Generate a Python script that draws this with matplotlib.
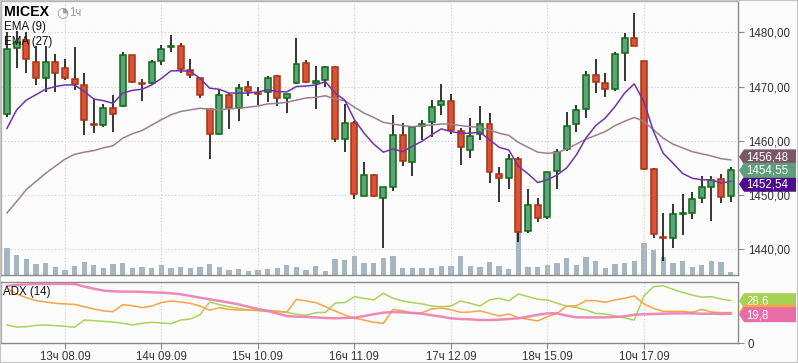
import matplotlib
matplotlib.use('Agg')
import matplotlib.pyplot as plt
from matplotlib.patches import Rectangle, Polygon

# ---------------- data ----------------
opens = [1464.9, 1477.1, 1478.6, 1474.5, 1471.5, 1474.5, 1473.4, 1471.3, 1470.2, 1463.1,
         1463.0, 1466.0, 1466.5, 1475.8, 1470.6, 1470.6, 1474.8, 1477.2, 1477.4, 1473.0,
         1471.5, 1465.8, 1461.2, 1468.4, 1466.0, 1469.9, 1468.8, 1469.0, 1471.9, 1467.9,
         1470.6, 1474.4, 1470.7, 1471.2, 1473.6, 1460.3, 1463.3, 1449.9, 1453.7, 1449.4,
         1451.5, 1461.1, 1456.1, 1462.8, 1463.4, 1466.6, 1467.4, 1461.8, 1458.3, 1461.2,
         1463.1, 1453.9, 1453.1, 1456.7, 1443.4, 1448.1, 1446.0, 1454.5, 1458.4, 1463.1,
         1465.8, 1472.1, 1470.6, 1469.5, 1476.1, 1478.9, 1474.7, 1454.8, 1442.3, 1442.0,
         1446.5, 1446.7, 1449.4, 1451.5, 1452.9, 1449.8]
highs = [1480.1, 1480.3, 1480.0, 1477.4, 1477.4, 1476.0, 1475.0, 1477.2, 1472.5, 1467.7,
         1466.8, 1468.4, 1476.3, 1475.9, 1471.4, 1474.9, 1477.7, 1479.5, 1478.0, 1475.0,
         1471.6, 1465.9, 1469.4, 1468.8, 1470.4, 1471.0, 1469.9, 1472.0, 1472.1, 1468.6,
         1479.0, 1474.9, 1473.8, 1473.8, 1473.7, 1466.7, 1463.6, 1456.1, 1453.8, 1451.5,
         1464.8, 1463.3, 1462.6, 1463.9, 1467.5, 1470.5, 1468.6, 1462.3, 1464.2, 1466.4,
         1465.1, 1455.2, 1457.6, 1457.1, 1451.2, 1449.4, 1454.3, 1458.5, 1465.3, 1466.6,
         1472.9, 1475.1, 1472.5, 1476.3, 1479.9, 1483.6, 1474.8, 1455.0, 1446.6, 1448.4,
         1450.2, 1450.5, 1453.6, 1453.6, 1453.9, 1455.2]
lows = [1464.4, 1473.5, 1472.5, 1470.2, 1469.0, 1469.0, 1471.2, 1469.3, 1461.0, 1461.4,
        1462.6, 1461.7, 1466.2, 1470.6, 1467.4, 1470.2, 1473.9, 1476.3, 1472.5, 1471.5,
        1467.8, 1456.6, 1461.1, 1462.1, 1463.6, 1468.3, 1466.6, 1467.1, 1466.5, 1465.2,
        1470.5, 1470.6, 1465.8, 1469.9, 1459.7, 1458.0, 1449.3, 1449.8, 1449.6, 1440.2,
        1450.7, 1455.3, 1453.6, 1460.2, 1460.7, 1464.8, 1461.3, 1455.5, 1456.8, 1460.1,
        1452.2, 1448.7, 1451.2, 1441.3, 1443.0, 1445.0, 1445.5, 1451.2, 1458.2, 1461.7,
        1464.2, 1468.9, 1468.0, 1469.2, 1471.1, 1477.4, 1454.7, 1442.0, 1437.8, 1440.2,
        1442.7, 1445.6, 1448.5, 1445.3, 1448.5, 1448.7]
closes = [1476.9, 1478.3, 1475.0, 1471.5, 1474.5, 1472.5, 1471.5, 1470.4, 1463.8, 1462.9,
          1466.0, 1464.9, 1475.8, 1470.9, 1470.4, 1474.5, 1476.9, 1477.4, 1473.2, 1472.1,
          1468.4, 1461.2, 1468.4, 1466.0, 1469.7, 1469.1, 1468.6, 1471.5, 1467.9, 1468.6,
          1474.2, 1470.9, 1471.0, 1473.6, 1460.3, 1463.3, 1450.2, 1453.7, 1449.8, 1451.5,
          1461.1, 1456.2, 1462.6, 1463.1, 1466.2, 1467.4, 1462.0, 1458.9, 1460.9, 1463.1,
          1454.2, 1453.1, 1456.7, 1443.2, 1448.1, 1445.8, 1454.2, 1458.0, 1462.7, 1465.6,
          1472.1, 1470.8, 1469.5, 1476.0, 1478.9, 1477.5, 1454.8, 1442.8, 1442.0, 1446.5,
          1446.7, 1449.3, 1451.5, 1452.8, 1449.6, 1454.55]
volumes = [81, 61, 49, 34, 37, 25, 16, 28, 40, 31, 22, 34, 37, 22, 25, 22, 31, 22, 25,
           22, 25, 34, 25, 16, 19, 13, 16, 19, 22, 31, 25, 16, 28, 13, 49, 46, 58, 37, 37,
           52, 58, 22, 22, 22, 22, 28, 28, 58, 28, 25, 40, 28, 19, 132, 25, 25, 31, 37,
           52, 31, 55, 43, 22, 34, 37, 43, 97, 76, 55, 37, 43, 25, 31, 43, 40, 10]
ema9 = [1462.3, 1465.7, 1467.5, 1468.5, 1469.5, 1470.0, 1470.3, 1470.3, 1469.1, 1467.7,
        1467.4, 1466.9, 1468.8, 1469.3, 1469.5, 1470.3, 1471.5, 1472.9, 1472.9, 1472.8,
        1471.5, 1469.7, 1469.5, 1468.8, 1468.8, 1468.8, 1469.0, 1469.4, 1469.1, 1469.0,
        1470.0, 1470.1, 1470.3, 1470.9, 1468.8, 1467.5, 1463.9, 1461.4, 1459.4, 1457.9,
        1458.5, 1458.0, 1459.0, 1459.9, 1461.1, 1462.2, 1461.7, 1461.4, 1461.4, 1461.6,
        1460.2, 1458.8, 1458.3, 1455.3, 1453.9, 1452.3, 1452.8, 1453.7, 1455.0, 1457.4,
        1460.5, 1462.8, 1464.2, 1466.3, 1468.8, 1470.5, 1467.2, 1461.7, 1457.7, 1455.9,
        1454.0, 1453.1, 1452.8, 1452.8, 1452.2, 1452.54]
ema27 = [1446.7, 1448.8, 1451.0, 1452.5, 1454.0, 1455.3, 1456.6, 1457.5, 1457.9, 1458.2,
         1458.7, 1459.1, 1460.5, 1461.3, 1461.9, 1462.9, 1463.9, 1464.8, 1465.4, 1465.7,
         1466.0, 1465.8, 1465.7, 1465.9, 1466.0, 1466.2, 1466.4, 1466.8, 1466.9, 1467.1,
         1467.5, 1467.9, 1468.0, 1468.3, 1467.7, 1467.4, 1466.2, 1465.1, 1464.3, 1463.4,
         1463.1, 1462.8, 1462.6, 1462.8, 1462.9, 1463.1, 1463.1, 1462.8, 1462.6, 1462.5,
         1462.0, 1461.4, 1461.0, 1459.7, 1458.8, 1457.9, 1457.7, 1457.8, 1458.5, 1459.4,
         1460.3, 1461.0, 1461.7, 1462.8, 1463.6, 1464.3, 1463.6, 1462.0, 1460.5, 1459.4,
         1458.7, 1458.0, 1457.6, 1457.2, 1456.7, 1456.48]
adx = [38.5, 39.2, 39.6, 39.9, 39.9, 39.9, 39.9, 39.9, 38.1, 36.7,
       35.4, 34.9, 34.7, 34.7, 34.5, 34.2, 34.0, 33.6, 32.9, 31.8,
       30.6, 29.5, 28.4, 27.3, 26.1, 24.5, 23.0, 21.6, 20.0, 18.2,
       17.8, 17.6, 17.3, 16.9, 16.7, 16.9, 17.1, 18.2, 19.4, 20.5,
       20.9, 20.7, 20.3, 19.8, 18.7, 17.8, 16.7, 16.2, 16.0, 15.5,
       15.5, 15.8, 16.2, 16.7, 17.8, 19.1, 20.0, 20.0, 18.5, 17.3,
       17.3, 17.3, 17.3, 17.6, 18.0, 19.1, 19.4, 19.6, 19.8, 20.0,
       20.0, 20.0, 19.8, 19.8, 19.6, 19.8]
di_plus = [36.9, 33.1, 30.6, 28.6, 27.7, 26.8, 26.4, 26.1, 24.5, 23.0,
           21.6, 21.2, 25.9, 25.2, 23.9, 25.0, 27.3, 28.4, 27.7, 26.8,
           25.0, 22.1, 23.9, 22.7, 22.3, 22.3, 22.1, 22.1, 21.6, 20.9,
           29.5, 28.4, 27.3, 24.5, 21.6, 18.9, 16.7, 15.5, 14.0, 13.3,
           22.7, 21.8, 20.0, 20.5, 23.0, 23.6, 22.5, 20.7, 20.9, 21.8,
           20.0, 18.2, 19.6, 17.1, 16.0, 14.9, 17.8, 20.0, 25.0, 25.0,
           28.6, 28.6, 27.5, 29.1, 30.2, 31.8, 26.4, 23.4, 21.4, 21.4,
           21.4, 20.7, 22.7, 20.9, 20.5, 20.5]
di_minus = [12.2, 10.8, 11.0, 11.9, 12.2, 11.7, 11.3, 10.6, 15.5, 15.1,
            14.6, 14.2, 13.3, 12.2, 13.3, 14.0, 13.5, 13.1, 15.5, 16.2,
            19.1, 27.7, 25.9, 24.5, 23.4, 22.3, 21.8, 21.4, 21.2, 20.7,
            19.4, 18.7, 20.5, 20.7, 27.0, 27.3, 31.3, 30.2, 29.1, 33.6,
            30.2, 28.4, 27.3, 26.4, 25.0, 24.5, 25.0, 28.4, 26.8, 25.0,
            29.1, 30.2, 28.4, 33.1, 31.3, 29.5, 29.1, 26.8, 25.0, 23.9,
            22.3, 20.0, 19.6, 18.2, 16.9, 15.5, 31.8, 38.1, 38.7, 36.3,
            34.2, 32.4, 30.9, 31.3, 29.7, 28.6]
tick_pos = [6, 16, 26, 36, 46, 56, 66]
tick_labels = ['13ч 08.09', '14ч 09.09', '15ч 10.09', '16ч 11.09',
               '17ч 12.09', '18ч 15.09', '10ч 17.09']
price_ticks = [1440, 1450, 1460, 1470, 1480]

# ---------------- style ----------------
plt.rcParams['font.family'] = ['Liberation Sans', 'DejaVu Sans']
BG = '#fcfcfc'
SPINE = '#8a8a8a'
GRID = '#c9c9c9'
UP_FILL, UP_EDGE = '#5fa37d', '#0b6b12'
DN_FILL, DN_EDGE = '#d9533b', '#a8320f'
C_EMA9, C_EMA27 = '#7232a8', '#9d7f8c'
C_VOL = '#a5b5c2'
C_ADX, C_DIP, C_DIM = '#ec7db0', '#f7a445', '#a9d35b'

W, H = 798, 363
fig = plt.figure(figsize=(W / 100, H / 100), dpi=100, facecolor=BG)


def rect(l, t, r, b):
    return [l / W, 1 - b / H, (r - l) / W, (b - t) / H]


axv = fig.add_axes(rect(1, 1, 738, 275))
ax = fig.add_axes(rect(1, 1, 738, 275), sharex=axv)
axa = fig.add_axes(rect(1, 282, 738, 343), sharex=axv)
axv.set_facecolor(BG)
ax.set_facecolor('none')
axa.set_facecolor(BG)

n = len(closes)
xs = list(range(n))
xlim = (-0.62, 75.75)

# volume
axv.bar(xs, volumes, width=0.55, color=C_VOL, zorder=1)
axv.set_ylim(0, 822)
axv.set_xlim(*xlim)
axv.axis('off')

# grid
for t in price_ticks:
    ax.axhline(t, color=GRID, lw=0.8, ls=(0, (1, 2)), zorder=0)
for t in tick_pos:
    ax.axvline(t, color=GRID, lw=0.8, ls=(0, (1, 2)), zorder=0)
    axa.axvline(t, color=GRID, lw=0.8, ls=(0, (1, 2)), zorder=0)

# candles
bw = 0.62
for i in xs:
    o, h, l, c = opens[i], highs[i], lows[i], closes[i]
    up = c >= o
    ax.vlines(i, l, h, color='black', lw=1.1, zorder=2)
    lo, hi = min(o, c), max(o, c)
    ax.add_patch(Rectangle((i - bw / 2, lo), bw, max(hi - lo, 0.15),
                           facecolor=UP_FILL if up else DN_FILL,
                           edgecolor=UP_EDGE if up else DN_EDGE, lw=1.1, zorder=3))

ax.plot(xs, ema27, color=C_EMA27, lw=1.1, zorder=4)
ax.plot(xs, ema9, color=C_EMA9, lw=1.1, zorder=5)

ax.set_xlim(*xlim)
ax.set_ylim(1435.26, 1485.77)
ax.yaxis.tick_right()
ax.set_yticks(price_ticks)
ax.set_yticklabels([f'{v:.2f}'.replace('.', ',') for v in price_ticks])
ax.tick_params(axis='y', length=4, color=SPINE, labelsize=8.3, labelcolor='#333333', pad=3)
ax.set_xticks(tick_pos)
ax.tick_params(axis='x', length=0, labelbottom=False)
for s in ax.spines.values():
    s.set_color('#b5b5b5')
    s.set_linewidth(1)
ax.spines['right'].set_color(SPINE)
ax.spines['bottom'].set_color(SPINE)

# ADX panel
axa.plot(xs, di_minus, color=C_DIM, lw=1.1, zorder=3)
axa.plot(xs, di_plus, color=C_DIP, lw=1.1, zorder=3)
axa.plot(xs, adx, color=C_ADX, lw=1.8, zorder=4, alpha=0.9)
axa.set_xlim(*xlim)
axa.set_ylim(0, 41.2)
axa.yaxis.tick_right()
axa.set_yticks([0])
axa.set_yticklabels(['0'])
axa.set_xticks(tick_pos)
axa.set_xticklabels(tick_labels)
axa.tick_params(axis='y', length=4, color=SPINE, labelsize=8.3, labelcolor='#333333', pad=3)
axa.tick_params(axis='x', length=4, color=SPINE, labelsize=8.3, labelcolor='#333333', pad=1.5)
for s in axa.spines.values():
    s.set_color(SPINE)
    s.set_linewidth(1)
axa.spines['left'].set_color('#b5b5b5')

# texts
fig.text(4 / W, 1 - 12.5 / H, 'MICEX', fontsize=10.2, fontweight='bold', va='center', ha='left')
fig.text(56 / W, 1 - 12.5 / H, '◔', fontsize=10, color='#9a9a9a', va='center', ha='left',
         family=['DejaVu Sans'])
fig.text(69 / W, 1 - 13 / H, '1ч', fontsize=8.3, color='#9a9a9a', va='center', ha='left')
fig.text(4 / W, 1 - 27 / H, 'EMA (9)', fontsize=8.3, color='#111111', va='center', ha='left')
fig.text(4 / W, 1 - 42 / H, 'EMA (27)', fontsize=8.3, color='#111111', va='center', ha='left')
fig.text(3 / W, 1 - 292 / H, 'ADX (14)', fontsize=8.3, color='#111111', va='center', ha='left')


# value tags on the right
def tag(y_px, text, color, z):
    hh = 7.5
    pts = [(739, y_px), (744, y_px - hh), (796, y_px - hh), (796, y_px + hh), (744, y_px + hh)]
    pts = [(px / W, 1 - py / H) for px, py in pts]
    fig.patches.append(Polygon(pts, closed=True, transform=fig.transFigure,
                               facecolor=color, edgecolor='none', zorder=z))
    if text:
        fig.text(746 / W, 1 - (y_px + 0.5) / H, text, color='white', fontsize=8.3,
                 va='center', ha='left', zorder=z + 0.5)


def ypix(axis, v):
    return H - axis.transData.transform((0, v))[1]


tag(ypix(ax, ema27[-1]) - 3, f'{ema27[-1]:.2f}'.replace('.', ','), '#7a5666', 10)
tag(ypix(ax, ema9[-1]) + 3, f'{ema9[-1]:.2f}'.replace('.', ','), '#4e0b8e', 12)
tag(ypix(ax, closes[-1]), f'{closes[-1]:.2f}'.replace('.', ','), '#5f9e7d', 14)
tag(ypix(axa, di_minus[-1]), f'{di_minus[-1]:.1f}'.replace('.', ','), '#a6d152', 16)
tag(ypix(axa, di_plus[-1]) - 0.5, '', '#f7a445', 17)
tag(ypix(axa, adx[-1]) + 1, f'{adx[-1]:.1f}'.replace('.', ','), '#e86da7', 18)

# outer frame
fig.patches.append(Rectangle((0, 0), 1, 1, transform=fig.transFigure, fill=False,
                             edgecolor='#c4c4c4', lw=1.5, zorder=20))

fig.savefig('out.png', dpi=100, facecolor=BG)
